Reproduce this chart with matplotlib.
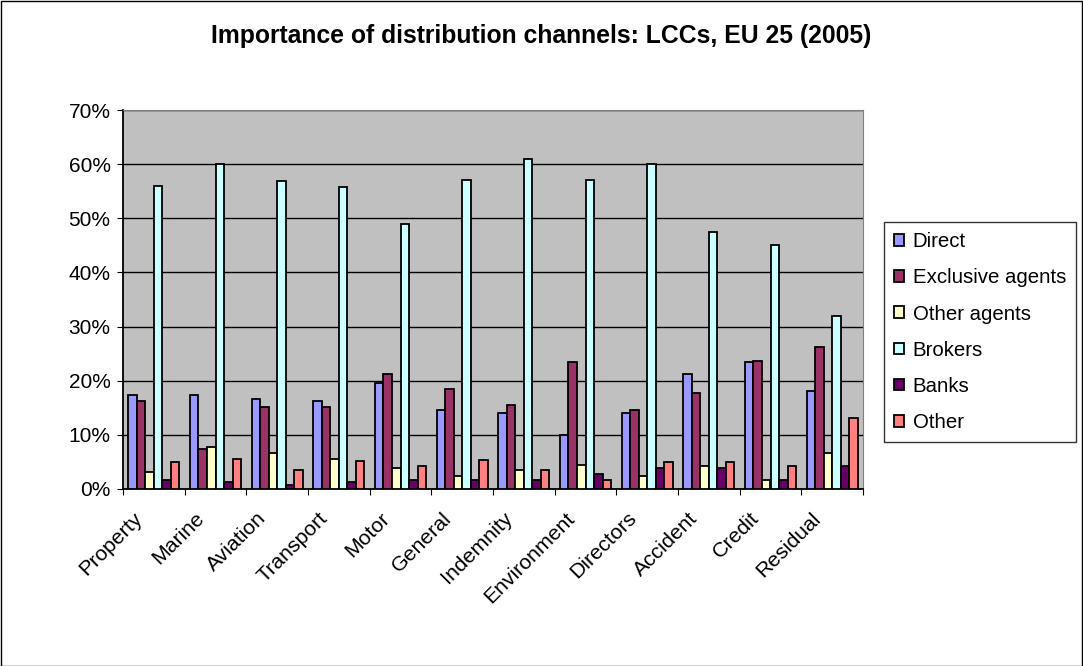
import numpy as np
import matplotlib.pyplot as plt
import matplotlib.transforms as mtransforms
from matplotlib.patches import Rectangle

plt.rcParams['font.family'] = ['Liberation Sans', 'DejaVu Sans']

categories = ['Property', 'Marine', 'Aviation', 'Transport', 'Motor', 'General',
              'Indemnity', 'Environment', 'Directors', 'Accident', 'Credit', 'Residual']
series_names = ['Direct', 'Exclusive agents', 'Other agents', 'Brokers', 'Banks', 'Other']

direct = [17.3, 17.3, 16.7, 16.3, 19.5, 14.5, 14.1, 9.9, 14.1, 21.3, 23.4, 18.1]
exclusive_agents = [16.3, 7.4, 15.2, 15.2, 21.3, 18.5, 15.6, 23.4, 14.5, 17.7, 23.7, 26.2]
other_agents = [3.1, 7.8, 6.7, 5.6, 3.9, 2.4, 3.5, 4.5, 2.4, 4.2, 1.7, 6.7]
brokers = [56.0, 60.0, 56.8, 55.7, 49.0, 57.1, 61.0, 57.1, 60.0, 47.5, 45.0, 31.9]
banks = [1.7, 1.3, 0.7, 1.3, 1.7, 1.7, 1.7, 2.7, 3.8, 3.8, 1.7, 4.2]
other = [4.9, 5.6, 3.5, 5.2, 4.2, 5.3, 3.5, 1.7, 4.9, 4.9, 4.2, 13.1]

colors = ['#9999FF', '#993366', '#FFFFCC', '#CCFFFF', '#660066', '#FF8080']
series = [direct, exclusive_agents, other_agents, brokers, banks, other]

fig = plt.figure(figsize=(10.83, 6.66), dpi=100)
ax = fig.add_axes([123 / 1083, 1 - 489 / 666, (863 - 123) / 1083, (489 - 110) / 666])
ax.set_facecolor('#C0C0C0')

x = np.arange(len(categories))
w = 0.138
for i, (name, vals, c) in enumerate(zip(series_names, series, colors)):
    ax.bar(x + (i - 2.5) * w, np.array(vals) / 100, w, color=c, edgecolor='black',
           linewidth=1.3, label=name, zorder=3)

ax.set_xlim(-0.5, len(categories) - 0.5)
ax.set_ylim(0, 0.7)
ax.set_yticks(np.arange(0, 0.71, 0.1))
ax.set_yticklabels([f'{int(round(v * 100))}%' for v in np.arange(0, 0.71, 0.1)], fontsize=15)
ax.yaxis.grid(True, color='black', linewidth=1, zorder=0)
ax.set_axisbelow(True)

# category boundaries get the tick marks, names sit at the centres
ax.set_xticks(np.arange(-0.5, len(categories), 1))
ax.set_xticklabels([])
ax.set_xticks(x, minor=True)
ax.set_xticklabels(categories, minor=True, rotation=45, ha='right', va='center',
                   rotation_mode='anchor', fontsize=15.3)
ax.tick_params(axis='x', which='minor', length=0, pad=19)
ax.tick_params(axis='x', which='major', length=4, direction='out')
ax.tick_params(axis='y', length=4, direction='out', pad=5)
shift = mtransforms.ScaledTranslation(-14 / 100, 0, fig.dpi_scale_trans)
for lab in ax.get_xticklabels(minor=True):
    lab.set_transform(lab.get_transform() + shift)

for s in ['top', 'right']:
    ax.spines[s].set_color('#808080')
for s in ['left', 'bottom']:
    ax.spines[s].set_color('black')
    ax.spines[s].set_linewidth(1.3)

fig.text(0.5, 1 - 36 / 666, 'Importance of distribution channels: LCCs, EU 25 (2005)',
         ha='center', va='center', fontsize=17.8, fontweight='bold')

leg = fig.legend(loc='upper left', bbox_to_anchor=(884 / 1083, 1 - 222 / 666), fontsize=14.7,
                 frameon=True, fancybox=False, edgecolor='black', handlelength=0.5,
                 handleheight=0.5, handletextpad=0.4, labelspacing=0.84, borderpad=0.5,
                 borderaxespad=0)
leg.get_frame().set_linewidth(1)

fig.patches.append(Rectangle((0.5 / 1083, 0.5 / 666), 1 - 1.5 / 1083, 1 - 1.5 / 666,
                             transform=fig.transFigure, fill=False, edgecolor='black', linewidth=1))

plt.savefig('out.png', dpi=100)
